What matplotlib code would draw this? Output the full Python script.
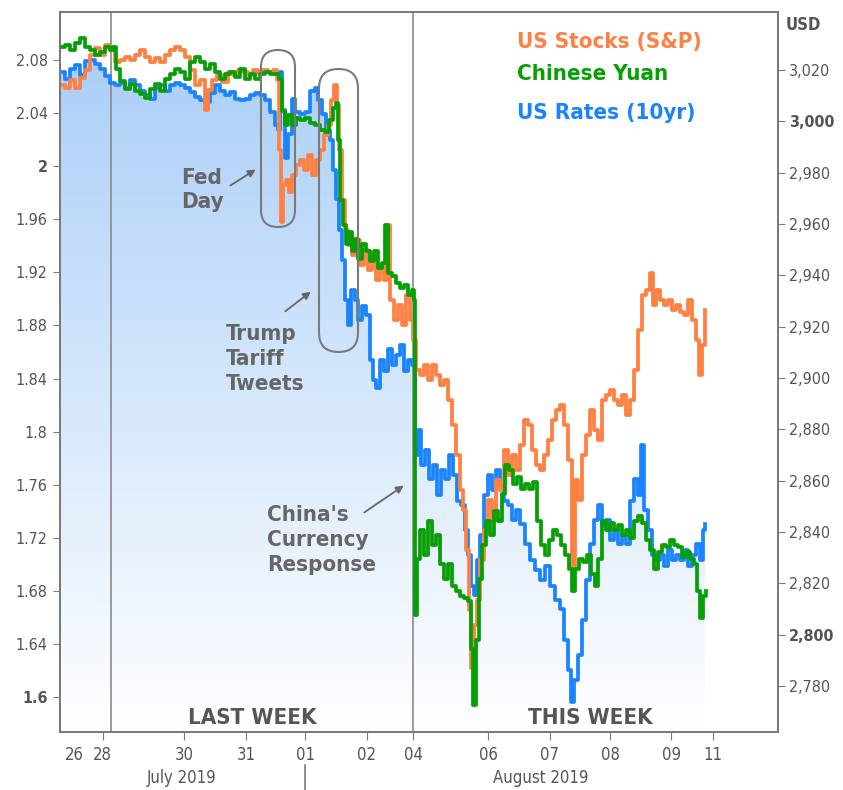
import numpy as np
import matplotlib
matplotlib.use("Agg")
import matplotlib.pyplot as plt
from matplotlib.colors import LinearSegmentedColormap
from matplotlib.patches import FancyBboxPatch
from matplotlib.lines import Line2D

plt.rcParams['font.family'] = ['DejaVu Sans']
plt.rcParams['font.stretch'] = 'condensed'

# time axis in trading sessions from the left edge of the chart
rates_t = [0.00, 0.08, 0.16, 0.25, 0.33, 0.41, 0.49, 0.57, 0.66, 0.74, 0.82, 0.90, 0.98, 1.07, 1.15,
           1.23, 1.31, 1.39, 1.48, 1.56, 1.64, 1.72, 1.80, 1.89, 1.97, 2.05, 2.13, 2.21, 2.30, 2.38,
           2.46, 2.54, 2.62, 2.70, 2.79, 2.87, 2.95, 3.03, 3.11, 3.20, 3.28, 3.36, 3.44, 3.52, 3.57,
           3.61, 3.64, 3.69, 3.74, 3.80, 3.85, 3.93, 4.02, 4.10, 4.18, 4.23, 4.30, 4.36, 4.43, 4.48,
           4.52, 4.57, 4.62, 4.67, 4.72, 4.77, 4.84, 4.89, 4.95, 5.02, 5.08, 5.13, 5.18, 5.25, 5.31,
           5.38, 5.44, 5.51, 5.57, 5.64, 5.70, 5.77,
           5.82, 5.87, 5.92, 5.98, 6.05, 6.11, 6.18, 6.25, 6.31, 6.38, 6.44, 6.51, 6.57, 6.64,
           6.69, 6.74, 6.79, 6.84, 6.89,
           6.95, 7.02, 7.08, 7.15, 7.21, 7.28, 7.34, 7.41, 7.48, 7.54,
           7.62, 7.70, 7.79, 7.87, 7.95, 8.03, 8.11, 8.20,
           8.26, 8.33, 8.38, 8.43, 8.49,
           8.56, 8.62, 8.69, 8.75, 8.82, 8.89, 8.95, 9.02, 9.08, 9.15, 9.21, 9.28, 9.34, 9.41, 9.48,
           9.52, 9.57,
           9.64, 9.70, 9.77, 9.84, 9.90, 9.97, 10.03, 10.10, 10.16, 10.23, 10.30, 10.36, 10.43, 10.49,
           10.54, 10.57]
rates_10yr = [2.071, 2.066, 2.073, 2.076, 2.069, 2.079, 2.080, 2.077, 2.073, 2.068, 2.063, 2.061, 2.063, 2.059, 2.065,
              2.061, 2.057, 2.054, 2.051, 2.059, 2.061, 2.057, 2.061, 2.063, 2.061, 2.059, 2.056, 2.052, 2.050, 2.048,
              2.055, 2.061, 2.057, 2.054, 2.056, 2.051, 2.050, 2.051, 2.054, 2.055, 2.054, 2.050, 2.041, 2.031, 2.027,
              2.071, 2.042, 2.006, 2.024, 2.051, 2.041, 2.039, 2.041, 2.057, 2.059, 2.050, 2.039, 2.027, 2.020, 1.997,
              1.975, 1.952, 1.929, 1.899, 1.880, 1.907, 1.899, 1.884, 1.895, 1.888, 1.854, 1.839, 1.833, 1.854, 1.846,
              1.862, 1.850, 1.858, 1.865, 1.846, 1.854, 1.850,
              1.782, 1.801, 1.775, 1.786, 1.764, 1.775, 1.752, 1.771, 1.764, 1.782, 1.767, 1.748, 1.745, 1.726,
              1.707, 1.684, 1.677, 1.703, 1.722,
              1.752, 1.767, 1.756, 1.771, 1.760, 1.748, 1.745, 1.733, 1.741, 1.730,
              1.715, 1.703, 1.696, 1.688, 1.699, 1.684, 1.673, 1.666,
              1.643, 1.620, 1.596, 1.613, 1.632,
              1.658, 1.688, 1.715, 1.733, 1.745, 1.730, 1.733, 1.718, 1.726, 1.715, 1.722, 1.715, 1.748, 1.764, 1.752,
              1.790, 1.741,
              1.726, 1.707, 1.703, 1.707, 1.699, 1.711, 1.703, 1.707, 1.703, 1.711, 1.699, 1.707, 1.715, 1.703,
              1.726, 1.730]

spx_t = [0.00, 0.08, 0.16, 0.25, 0.33, 0.41, 0.49, 0.57, 0.66, 0.74, 0.82, 0.90, 0.98, 1.07, 1.15,
         1.23, 1.31, 1.39, 1.48, 1.56, 1.64, 1.72, 1.80, 1.89, 1.97, 2.05, 2.13, 2.21, 2.30,
         2.38, 2.43, 2.49, 2.57, 2.66, 2.75, 2.84, 2.92, 3.00, 3.08, 3.16, 3.25, 3.33, 3.41, 3.49, 3.56,
         3.59, 3.62, 3.66, 3.70, 3.75, 3.80, 3.87, 3.93, 4.00, 4.07, 4.13, 4.20, 4.26, 4.33, 4.39,
         4.44, 4.49, 4.54, 4.57, 4.62, 4.67, 4.72, 4.79, 4.85, 4.92, 4.98, 5.05, 5.11, 5.18, 5.25,
         5.31, 5.36, 5.41, 5.48, 5.54, 5.61, 5.67, 5.74, 5.79,
         5.84, 5.90, 5.97, 6.03, 6.10, 6.16, 6.23, 6.30, 6.36, 6.43, 6.49, 6.56,
         6.61, 6.66, 6.70, 6.74, 6.79, 6.84, 6.89,
         6.95, 7.02, 7.08, 7.15, 7.21, 7.28, 7.34, 7.41, 7.48, 7.54, 7.61, 7.67, 7.74, 7.80, 7.87,
         7.93, 8.00, 8.07, 8.13, 8.20, 8.26, 8.33,
         8.39, 8.44, 8.49,
         8.56, 8.62, 8.69, 8.75, 8.82, 8.89, 8.95, 9.02, 9.08, 9.15, 9.21, 9.28, 9.34, 9.41, 9.48,
         9.54, 9.61, 9.67,
         9.72, 9.77,
         9.84, 9.90, 9.97, 10.03, 10.10, 10.16, 10.23, 10.30, 10.36, 10.43,
         10.48, 10.52, 10.57]
spx = [3014.2, 3013.0, 3016.1, 3013.0, 3016.9, 3020.0, 3025.8, 3028.6, 3025.8, 3029.7, 3027.8, 3023.1, 3023.9, 3025.1, 3023.9,
       3025.8, 3027.8, 3025.1, 3023.1, 3024.7, 3023.1, 3025.8, 3027.8, 3029.0, 3027.8, 3025.1, 3020.0, 3014.2, 3016.1,
       3004.4, 3012.2, 3016.1, 3018.1, 3015.3, 3019.2, 3018.1, 3020.0, 3019.2, 3018.1, 3020.0, 3018.8, 3020.0, 3019.2, 3020.0, 3016.1,
       2988.8, 2960.8, 2975.2, 2977.1, 2972.5, 2979.1, 2983.0, 2984.9, 2981.0, 2986.9, 2979.1, 2984.9, 2988.8, 2994.7, 2998.6,
       3008.3, 3014.2, 3006.4, 2988.8, 2969.4, 2957.7, 2951.8, 2947.9, 2953.8, 2944.0, 2949.9, 2942.1, 2947.9, 2938.2, 2944.0,
       2938.2, 2959.6, 2930.4, 2922.6, 2928.5, 2920.7, 2932.3, 2922.6, 2914.8,
       2903.1, 2901.1, 2905.0, 2899.2, 2905.0, 2901.1, 2897.3, 2899.2, 2891.4, 2881.7, 2870.0, 2856.4,
       2848.6, 2833.0, 2809.6, 2787.0, 2803.8, 2813.5, 2829.1,
       2840.8, 2852.5, 2844.7, 2860.3, 2856.4, 2872.0, 2862.3, 2870.0, 2864.1, 2873.9, 2883.7, 2881.7, 2872.0, 2866.1, 2864.1,
       2870.0, 2875.9, 2883.7, 2887.6, 2889.5, 2881.7, 2868.0,
       2825.2, 2860.3, 2852.5,
       2870.0, 2877.8, 2887.6, 2879.8, 2875.9, 2891.4, 2893.4, 2895.3, 2891.4, 2889.5, 2893.4, 2885.6, 2891.4, 2903.1, 2918.7,
       2932.3, 2934.3, 2940.9,
       2928.5, 2934.3,
       2930.4, 2928.5, 2930.4, 2926.5, 2928.5, 2925.7, 2924.6, 2930.4, 2922.6, 2914.8,
       2901.2, 2912.9, 2926.5]

# yuan shown as CNY per USD on a hidden, inverted scale
cny_t = [0.00, 0.08, 0.16, 0.25, 0.33, 0.41, 0.49, 0.57, 0.66, 0.74, 0.82, 0.87, 0.92,
         0.98, 1.07, 1.15, 1.23, 1.31, 1.39, 1.48, 1.56, 1.64, 1.72, 1.80, 1.89, 1.97, 2.05, 2.13, 2.21,
         2.30, 2.38, 2.46, 2.54, 2.62, 2.70, 2.79, 2.87, 2.95, 3.03, 3.11, 3.20, 3.28, 3.36, 3.44, 3.52,
         3.59, 3.64, 3.69, 3.74, 3.80, 3.87, 3.93, 4.02, 4.10, 4.18, 4.26, 4.34, 4.41, 4.48, 4.52,
         4.56, 4.59, 4.64, 4.69, 4.74, 4.79, 4.84, 4.89, 4.95, 5.02, 5.08, 5.15, 5.21, 5.28, 5.33,
         5.38, 5.44, 5.51, 5.57, 5.64, 5.70, 5.77, 5.80,
         5.82, 5.85,
         5.90, 5.97, 6.03, 6.10, 6.16, 6.23, 6.30, 6.36, 6.43, 6.49, 6.56, 6.62, 6.69,
         6.74, 6.77, 6.82, 6.87, 6.92,
         6.98, 7.05, 7.11, 7.18, 7.25, 7.30, 7.36, 7.43, 7.49, 7.56, 7.62, 7.69, 7.75,
         7.82, 7.89, 7.95, 8.02, 8.08, 8.15, 8.21, 8.28, 8.34,
         8.39, 8.44, 8.51, 8.57, 8.64, 8.70, 8.77, 8.82,
         8.89, 8.95, 9.02, 9.08, 9.15, 9.21, 9.28, 9.34, 9.41, 9.48, 9.54, 9.61, 9.67, 9.74, 9.80,
         9.87, 9.93, 10.00, 10.07, 10.13, 10.20, 10.26, 10.33, 10.39,
         10.44, 10.49, 10.54, 10.59]
cny = [6.871, 6.870, 6.872, 6.869, 6.867, 6.871, 6.872, 6.874, 6.873, 6.871, 6.872, 6.871, 6.880,
       6.885, 6.888, 6.886, 6.889, 6.890, 6.892, 6.888, 6.886, 6.889, 6.884, 6.882, 6.880, 6.881, 6.884, 6.877, 6.875,
       6.877, 6.880, 6.878, 6.881, 6.884, 6.882, 6.881, 6.883, 6.880, 6.884, 6.882, 6.884, 6.882, 6.881, 6.882, 6.882,
       6.884, 6.897, 6.903, 6.899, 6.903, 6.900, 6.901, 6.900, 6.902, 6.903, 6.905, 6.906, 6.901, 6.896, 6.894,
       6.909, 6.934, 6.944, 6.952, 6.947, 6.955, 6.950, 6.958, 6.952, 6.955, 6.959, 6.955, 6.962, 6.960, 6.944,
       6.964, 6.965, 6.968, 6.970, 6.969, 6.973, 6.971, 6.975,
       7.105, 7.082,
       7.070, 7.080, 7.066, 7.076, 7.072, 7.084, 7.090, 7.084, 7.093, 7.095, 7.097, 7.098, 7.099,
       7.119, 7.142, 7.115, 7.090, 7.076,
       7.066, 7.072, 7.062, 7.066, 7.055, 7.043, 7.045, 7.051, 7.048, 7.053, 7.051, 7.053, 7.050,
       7.066, 7.076, 7.080, 7.074, 7.070, 7.072, 7.076, 7.080, 7.086,
       7.095, 7.086, 7.082, 7.083, 7.080, 7.088, 7.093, 7.082,
       7.066, 7.070, 7.067, 7.070, 7.068, 7.072, 7.070, 7.073, 7.066, 7.064, 7.067, 7.074, 7.078, 7.086, 7.079,
       7.076, 7.077, 7.074, 7.076, 7.077, 7.081, 7.079, 7.082, 7.084,
       7.095, 7.106, 7.097, 7.095]

day_pos = [0.70, 2.03, 3.05, 4.02, 5.03, 5.79, 7.02, 8.03, 9.02, 10.02, 10.70]
day_labels = ['28', '30', '31', '01', '02', '04', '06', '07', '08', '09', '11']
week_lines = [0.84, 5.79]

rate_ticks = [2.08, 2.04, 2.0, 1.96, 1.92, 1.88, 1.84, 1.8, 1.76, 1.72, 1.68, 1.64, 1.6]
rate_labels = ['2.08', '2.04', '2', '1.96', '1.92', '1.88', '1.84', '1.8', '1.76', '1.72', '1.68', '1.64', '1.6']
spx_ticks = [3020, 3000, 2980, 2960, 2940, 2920, 2900, 2880, 2860, 2840, 2820, 2800, 2780]

c_orange = '#ff8040'
c_green = '#06a006'
c_blue = '#1a84ff'
grey = '#555555'
note_grey = '#666666'

fig = plt.figure(figsize=(8.43, 7.90), dpi=100)
ax = fig.add_axes([60/843, 58/790, 718/843, 720/790])
ax2 = ax.twinx()
ax3 = ax.twinx()

xmax = 11.77
rate_lo, rate_hi = 1.5736, 2.1162

# gradient fill under the rates line
cmap = LinearSegmentedColormap.from_list('fade', ['#ffffff', '#a6ccf7'])
grad = np.linspace(0, 1, 256).reshape(-1, 1)
poly = ax.fill_between(rates_t, rates_10yr, rate_lo, step='post', facecolor='none', edgecolor='none')
im = ax.imshow(grad, cmap=cmap, aspect='auto', origin='lower',
               extent=[0, xmax, rate_lo, rate_hi], zorder=0)
im.set_clip_path(poly.get_paths()[0], transform=ax.transData)

for xv in week_lines:
    ax.axvline(xv, color='#8a8a8a', lw=1.2, zorder=1)

ax.plot(rates_t, rates_10yr, color=c_blue, lw=2.7, drawstyle='steps-post', zorder=3)
ax2.plot(spx_t, spx, color=c_orange, lw=2.7, drawstyle='steps-post')
ax3.plot(cny_t, cny, color=c_green, lw=2.7, drawstyle='steps-post')

ax.set_xlim(0, xmax)
ax.set_ylim(rate_lo, rate_hi)
ax2.set_ylim(2762.1, 3042.6)
ax3.set_ylim(7.1531, 6.8564)

for a in (ax, ax2):
    for s in a.spines.values():
        s.set_color('#7a7a7a')
        s.set_linewidth(1.4)
for s in ax3.spines.values():
    s.set_visible(False)
ax3.set_yticks([])

ax.set_yticks(rate_ticks)
ax.set_yticklabels(rate_labels)
ax.tick_params(axis='y', direction='out', length=5, color='#7a7a7a', labelcolor=grey, labelsize=11.5, pad=4)
for lab in ax.get_yticklabels():
    if lab.get_text() in ('2', '1.6'):
        lab.set_fontweight('bold')

ax2.set_yticks(spx_ticks)
ax2.set_yticklabels([f'{v:,}' for v in spx_ticks])
ax2.tick_params(axis='y', direction='out', length=5, color='#7a7a7a', labelcolor=grey, labelsize=11.5, pad=3)
for lab in ax2.get_yticklabels():
    if lab.get_text() in ('3,000', '2,800'):
        lab.set_fontweight('bold')

ax.set_xticks(day_pos)
ax.set_xticklabels(day_labels)
ax.set_xticks([0.23], minor=True)
ax.set_xticklabels(['26'], minor=True)
ax.tick_params(axis='x', which='major', direction='out', length=6, color='#7a7a7a',
               labelcolor=grey, labelsize=12, pad=4)
ax.tick_params(axis='x', which='minor', length=0, labelcolor=grey, labelsize=12, pad=10)

# series legend
leg = [('US Stocks (S&P)', c_orange, 0.958), ('Chinese Yuan', c_green, 0.914), ('US Rates (10yr)', c_blue, 0.860)]
for txt, col, fy in leg:
    ax.text(0.637, fy, txt, transform=ax.transAxes, color=col, fontsize=16, fontweight='bold',
            va='center', ha='left', zorder=6)

ax.text(1.035, 0.982, 'USD', transform=ax.transAxes, color=grey, fontsize=12, fontweight='bold',
        ha='center', va='center')

ax.text(0.2674, 0.0194, 'LAST WEEK', transform=ax.transAxes, color=grey, fontsize=16,
        fontweight='bold', ha='center', va='center')
ax.text(0.7382, 0.0194, 'THIS WEEK', transform=ax.transAxes, color=grey, fontsize=16,
        fontweight='bold', ha='center', va='center')

notes = [('Fed\nDay', 0.1685, 0.7528, (0.234, 0.7569), (0.2758, 0.7833)),
         ('Trump\nTariff\nTweets', 0.2312, 0.5181, (0.3106, 0.5819), (0.3524, 0.6139)),
         ("China's\nCurrency\nResponse", 0.2883, 0.2667, (0.4206, 0.3028), (0.4819, 0.3444))]
for txt, fx, fy, a0, a1 in notes:
    ax.text(fx, fy, txt, transform=ax.transAxes, color=note_grey, fontsize=16, fontweight='bold',
            ha='left', va='center', linespacing=1.3, zorder=6)
    ax.annotate('', xy=a1, xytext=a0, xycoords='axes fraction', textcoords='axes fraction',
                arrowprops=dict(arrowstyle='-|>', color='#666666', lw=1.3, mutation_scale=11))

# rounded outlines around the two events (inches from bottom-left of figure)
for x0, y0, w, h in [(2.61, 5.63, 0.34, 1.77), (3.19, 4.38, 0.39, 2.83)]:
    box = FancyBboxPatch((x0, y0), w, h, boxstyle=f'round,pad=0,rounding_size={w/2}',
                         transform=fig.dpi_scale_trans, fill=False, edgecolor='#7a7a7a', lw=1.5, zorder=7)
    fig.add_artist(box)

fig.text(182/843, 1 - 778/790, 'July 2019', color=grey, fontsize=12, ha='center', va='center')
fig.text(541/843, 1 - 778/790, 'August 2019', color=grey, fontsize=12, ha='center', va='center')
fig.add_artist(Line2D([305/843, 305/843], [0, 25/790], transform=fig.transFigure, color='#7a7a7a', lw=1.2))

fig.savefig('out.png', dpi=100, facecolor='w')
